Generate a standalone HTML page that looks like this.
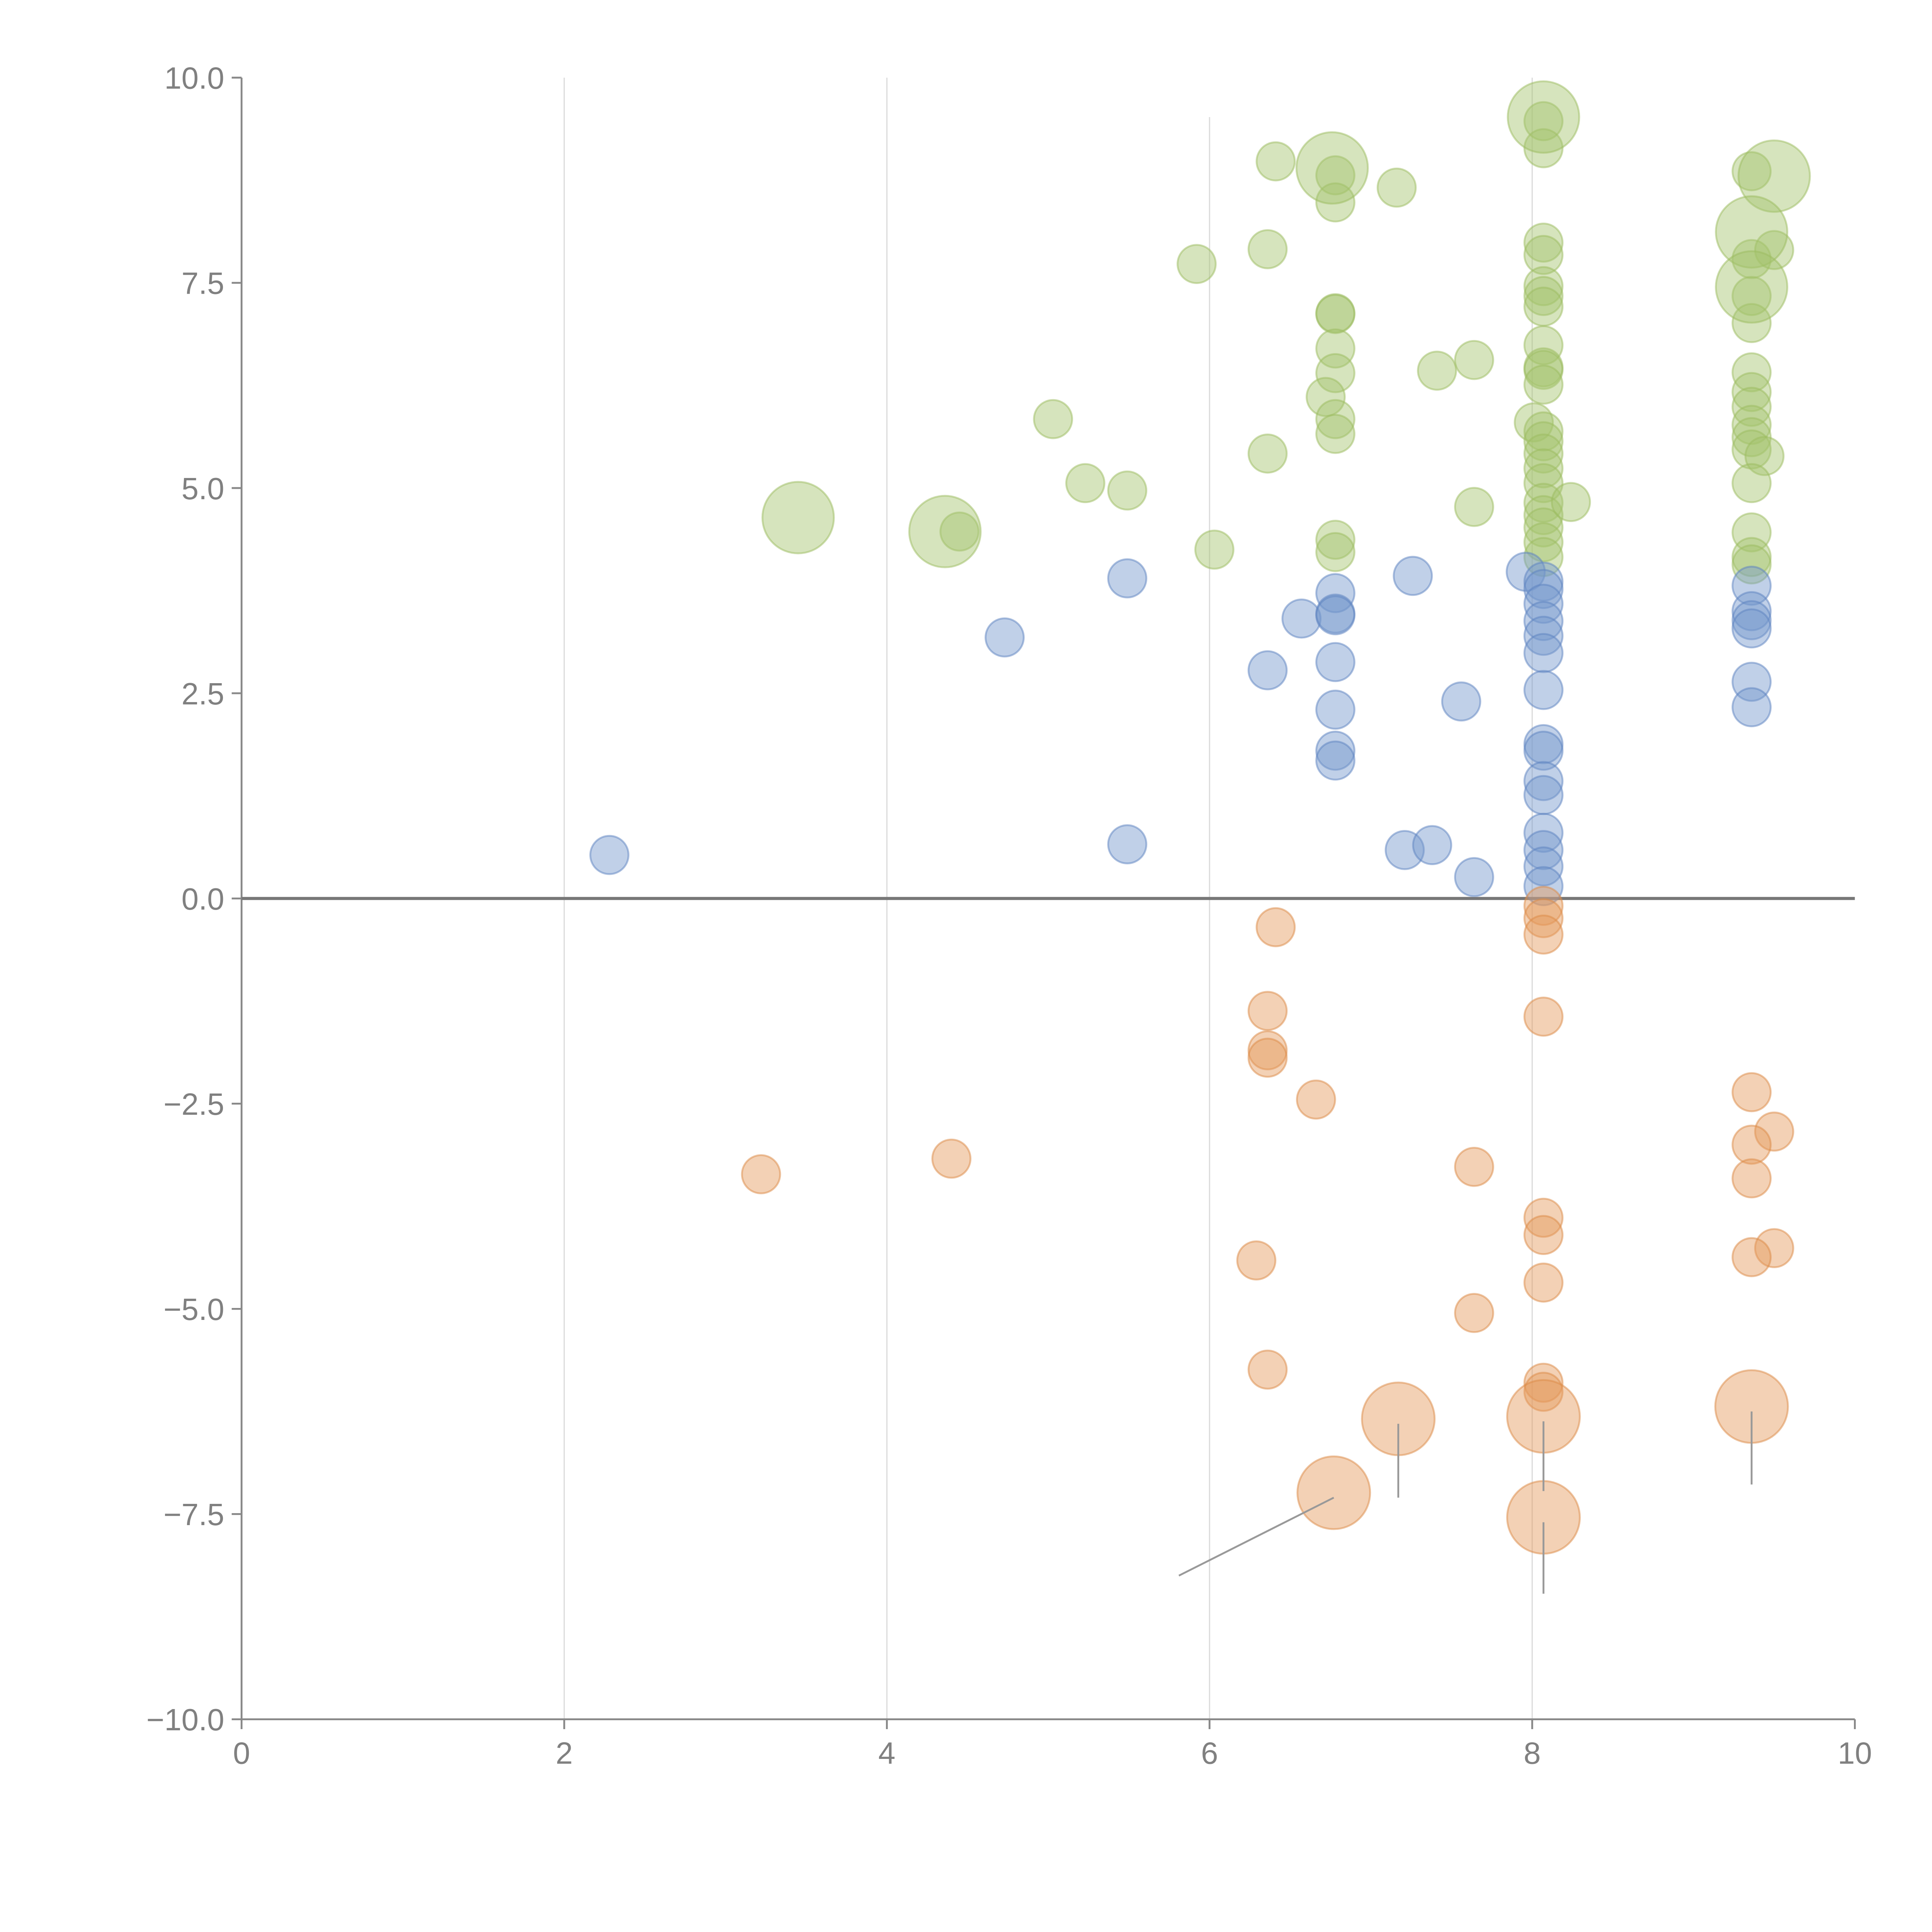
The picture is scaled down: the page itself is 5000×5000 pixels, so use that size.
<!DOCTYPE html>
<html><head><meta charset="utf-8">
<style>html,body{margin:0;padding:0;background:#fff}svg{display:block}text{font-family:"Liberation Sans",Arial,sans-serif}</style>
</head><body>
<svg id="chart" width="5000" height="5000" viewBox="0 0 1567.6 1567.6" xmlns="http://www.w3.org/2000/svg">
<g id="grid"></g>
<g id="axes"></g>
<g id="marks"></g>
</svg>
<script>
const xTicks=[0,2,4,6,8,10];
const yTicks=[10,7.5,5,2.5,0,-2.5,-5,-7.5,-10];
const yTickLabels=["10.0","7.5","5.0","2.5","0.0","\u22122.5","\u22125.0","\u22127.5","\u221210.0"];
const blueX=[2.28,4.73,5.49,5.49,6.36,6.57,6.78,6.78,6.78,6.78,6.78,6.78,6.78,7.26,7.21,7.38,7.56,7.64,7.96,8.07,8.07,8.07,8.07,8.07,8.07,8.07,8.07,8.07,8.07,8.07,8.07,8.07,8.07,8.07,9.36,9.36,9.36,9.36,9.36,9.36];
const blueY=[0.53,3.18,3.90,0.66,2.78,3.41,3.72,3.47,3.45,2.88,2.30,1.80,1.68,3.93,0.59,0.65,2.40,0.26,3.98,3.86,3.77,3.59,3.38,3.20,2.99,2.54,1.88,1.80,1.43,1.26,0.80,0.59,0.39,0.15,3.81,3.50,3.39,3.29,2.64,2.33];
const orangeX=[6.41,6.36,6.36,6.36,6.66,3.22,4.40,7.64,6.29,7.64,6.36,8.07,8.07,8.07,8.07,8.07,8.07,8.07,8.07,8.07,9.36,9.50,9.36,9.36,9.50,9.36];
const orangeY=[-0.35,-1.37,-1.85,-1.94,-2.45,-3.36,-3.17,-3.27,-4.41,-5.05,-5.74,-0.09,-0.24,-0.44,-1.44,-3.89,-4.10,-4.68,-5.90,-6.01,-2.36,-2.84,-3.00,-3.41,-4.26,-4.37];
const orangeBigX=[7.17,6.77,8.07,8.07,9.36];
const orangeBigY=[-6.34,-7.24,-6.31,-7.54,-6.19];
const greenX=[6.41,6.36,5.92,7.16,6.78,6.78,6.78,6.78,6.78,6.78,6.72,6.78,6.78,6.36,5.03,5.23,5.49,6.03,4.45,7.41,7.64,7.64,6.78,6.78,8.07,8.07,8.07,8.07,8.07,8.07,8.07,8.07,8.07,8.07,8.07,8.01,8.07,8.07,8.07,8.07,8.07,8.07,8.07,8.07,8.07,8.07,8.24,9.36,9.36,9.50,9.36,9.36,9.36,9.36,9.36,9.36,9.36,9.36,9.44,9.36,9.36,9.36,9.36];
const greenY=[8.98,7.91,7.73,8.66,8.81,8.48,7.13,7.12,6.70,6.40,6.11,5.84,5.66,5.42,5.84,5.06,4.97,4.25,4.47,6.43,6.56,4.77,4.37,4.22,9.47,9.14,7.99,7.84,7.46,7.34,7.21,6.74,6.47,6.44,6.26,5.80,5.69,5.57,5.42,5.24,5.06,4.82,4.67,4.52,4.34,4.16,4.83,8.86,7.79,7.90,7.34,7.01,6.41,6.17,5.99,5.77,5.62,5.47,5.39,5.06,4.46,4.16,4.07];
const greenBigX=[3.45,4.36,6.76,8.07,9.50,9.36,9.36];
const greenBigY=[4.64,4.47,8.90,9.52,8.80,8.12,7.45];
const leaderX1=[5.81,7.17,8.07,8.07,9.36];
const leaderY1=[-8.25,-7.30,-7.22,-8.47,-7.14];
const leaderX2=[6.77,7.17,8.07,8.07,9.36];
const leaderY2=[-7.30,-6.40,-6.37,-7.60,-6.25];

const NS="http://www.w3.org/2000/svg";
const X0=196,X1=1505,Y0=1395,Y1=63;
const sx=v=>X0+(v-0)/(10-0)*(X1-X0);
const sy=v=>Y0-(v+10)/20*(Y0-Y1);
function mk(tag,attrs,parent){const e=document.createElementNS(NS,tag);for(const k in attrs)e.setAttribute(k,attrs[k]);parent.appendChild(e);return e;}
const grid=document.getElementById('grid'),axes=document.getElementById('axes'),marks=document.getElementById('marks');
[2,4,6,8].forEach(v=>{
  const l=mk('line',{x1:sx(v),x2:sx(v),y1:v===6?95:Y1,y2:Y0,stroke:'#dcdcdc','stroke-width':1},grid);
  
  
});
let a=mk('line',{x1:X0,x2:X0,y1:Y1,y2:Y0,stroke:'#888','stroke-width':1.5},axes);

a=mk('line',{x1:X0,x2:X1,y1:Y0,y2:Y0,stroke:'#888','stroke-width':1.5},axes);

a=mk('line',{x1:X0,x2:X1,y1:sy(0),y2:sy(0),stroke:'#777','stroke-width':2.5},axes);

xTicks.forEach(v=>{
  const t=mk('line',{x1:sx(v),x2:sx(v),y1:Y0,y2:Y0+8,stroke:'#888','stroke-width':1.5},axes);
  
  const tx=mk('text',{x:sx(v),y:Y0+36,'text-anchor':'middle','font-size':25,fill:'#808080'},axes);
  tx.textContent=String(v);
  
});
yTicks.forEach((v,i)=>{
  const t=mk('line',{x1:X0-8,x2:X0,y1:sy(v),y2:sy(v),stroke:'#888','stroke-width':1.5},axes);
  
  const tx=mk('text',{x:X0-14,y:sy(v)+9,'text-anchor':'end','font-size':25,fill:'#808080'},axes);
  tx.textContent=yTickLabels[i];
  
});
function series(xs,ys,r,fill,stroke,name){
  xs.forEach((x,i)=>{
    const c=mk('circle',{cx:sx(x),cy:sy(ys[i]),r:r,fill:fill,'fill-opacity':0.45,stroke:stroke,'stroke-opacity':0.5,'stroke-width':1.5},marks);
    
    
  });
}
series(greenX,greenY,15.5,'#a3c46c','#9cbc60','point-green');
series(greenBigX,greenBigY,29,'#a3c46c','#9cbc60','bubble-green');
series(blueX,blueY,15.5,'#7396cc','#5b82c0','point-blue');
series(orangeX,orangeY,15.5,'#e59a5c','#dc8a45','point-orange');
series(orangeBigX,orangeBigY,29.5,'#e59a5c','#dc8a45','bubble-orange');
leaderX1.forEach((x,i)=>{
  const l=mk('line',{x1:sx(x),y1:sy(leaderY1[i]),x2:sx(leaderX2[i]),y2:sy(leaderY2[i]),stroke:'#999','stroke-width':1.5},marks);
  
  
});
</script>
</body></html>
